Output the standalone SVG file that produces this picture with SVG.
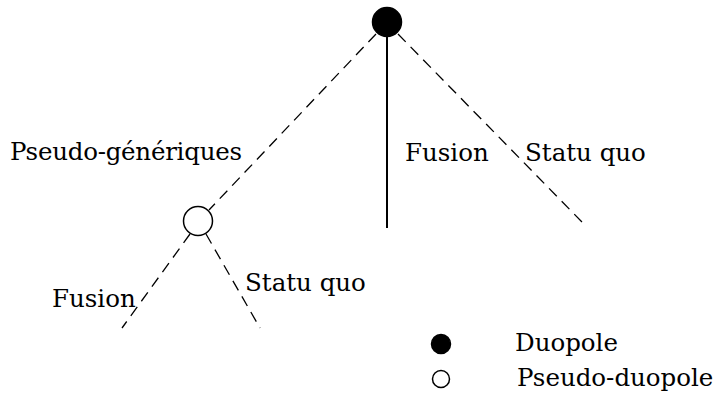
<svg xmlns="http://www.w3.org/2000/svg" width="714" height="395" viewBox="0 0 714 395">
<style>
.t{font-family:"DejaVu Serif","Liberation Serif",serif;font-size:24.5px;fill:#000}
.d{stroke:#000;stroke-width:1.3;fill:none;stroke-dasharray:11 7}
.s{stroke:#000;stroke-width:2;fill:none}
.full{fill:#000;stroke:#000;stroke-width:1.5}
.open{fill:#fff;stroke:#000;stroke-width:1.5}
</style>
<rect width="714" height="395" fill="#fff"/>
<g id="connectors">
<line class="d" x1="376" y1="34" x2="209" y2="210"/>
<line class="s" x1="387" y1="37" x2="387" y2="228"/>
<line class="d" x1="398" y1="34" x2="582" y2="222"/>
<line class="d" x1="190" y1="234" x2="122" y2="328"/>
<line class="d" x1="206" y1="234" x2="260" y2="328"/>
</g>
<g id="duopole-root"><circle class="full" cx="387" cy="22" r="14.5"/></g>
<g id="pseudo-node"><circle class="open" cx="198" cy="221" r="14.5"/></g>
<g id="labels">
<text class="t" x="10" y="160" textLength="232">Pseudo-génériques</text>
<text class="t" x="405" y="161">Fusion</text>
<text class="t" x="525" y="161">Statu quo</text>
<text class="t" x="52" y="307">Fusion</text>
<text class="t" x="245" y="291">Statu quo</text>
</g>
<g id="legend">
<circle class="full" cx="441" cy="344" r="9.5"/>
<text class="t" x="515" y="351">Duopole</text>
<circle class="open" cx="441" cy="379" r="8.5"/>
<text class="t" x="517" y="386">Pseudo-duopole</text>
</g>
</svg>
